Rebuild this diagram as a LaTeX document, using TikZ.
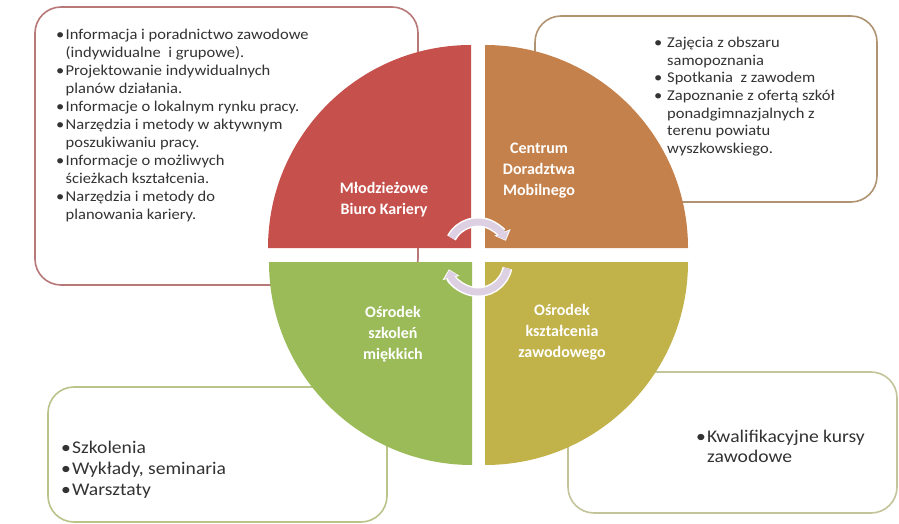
\documentclass[tikz,border=0pt]{standalone}
\usepackage{fontspec}
\setmainfont{Carlito}
\usetikzlibrary{arrows.meta}
\definecolor{qred}{HTML}{C6504B}
\definecolor{qorange}{HTML}{C4814B}
\definecolor{qgreen}{HTML}{9BBB59}
\definecolor{qolive}{HTML}{C2B24A}
\definecolor{bTL}{HTML}{B87878}
\definecolor{bTR}{HTML}{B09472}
\definecolor{bBL}{HTML}{B8C48A}
\definecolor{bBR}{HTML}{C4C49A}
\definecolor{txt}{HTML}{333333}
\definecolor{cyc}{HTML}{DCD0E2}
\newfontfamily\widefont[FakeStretch=1.1]{Carlito}
\newcommand\bitem[1]{\makebox[#1][l]{•}}
\newcommand\bcont[1]{\hspace*{#1}}
\begin{document}
\begin{tikzpicture}[x=1pt,y=-1pt,
  infobox/.style={line width=1.6pt, rounded corners=26pt, fill=white},
  bullets/.style={anchor=north west, align=left, text=txt, inner sep=0pt},
  qlabel/.style={text=white, font=\bfseries\fontsize{16}{21}\selectfont, align=center, inner sep=0pt},
  cycarc/.style={line width=7pt, cyc, line cap=butt},
  cycedge/.style={line width=10pt, white, line cap=butt}]
\useasboundingbox[fill=white] (0,0) rectangle (899,524);

% info boxes
\draw[infobox, draw=bTL] (35,7) rectangle (418,285);
\draw[infobox, draw=bTR] (535,16) rectangle (877,202);
\draw[infobox, draw=bBL] (48,387) rectangle (387,522);
\draw[infobox, draw=bBR] (568,372) rectangle (897,513);

% box texts
\node[bullets, font=\widefont\fontsize{15}{18}\selectfont] (tl) at (56,28.5) {%
\bitem{9.5pt}Informacja i poradnictwo zawodowe\\
\bcont{9.5pt}(indywidualne\ \ i grupowe).\\
\bitem{9.5pt}Projektowanie indywidualnych\\
\bcont{9.5pt}planów działania.\\
\bitem{9.5pt}Informacje o lokalnym rynku pracy.\\
\bitem{9.5pt}Narzędzia i metody w aktywnym\\
\bcont{9.5pt}poszukiwaniu pracy.\\
\bitem{9.5pt}Informacje o możliwych\\
\bcont{9.5pt}ścieżkach kształcenia.\\
\bitem{9.5pt}Narzędzia i metody do\\
\bcont{9.5pt}planowania kariery.};

\node[bullets, font=\widefont\fontsize{15}{17.6}\selectfont] (tr) at (654,37) {%
\bitem{13pt}Zajęcia z obszaru\\
\bcont{13pt}samopoznania\\
\bitem{13pt}Spotkania\ \ z zawodem\\
\bitem{13pt}Zapoznanie z ofertą szkół\\
\bcont{13pt}ponadgimnazjalnych z\\
\bcont{13pt}terenu powiatu\\
\bcont{13pt}wyszkowskiego.};

\node[bullets, font=\widefont\fontsize{17.8}{21}\selectfont] (bl) at (61,441) {%
\bitem{11pt}Szkolenia\\
\bitem{11pt}Wykłady, seminaria\\
\bitem{11pt}Warsztaty};

\node[bullets, font=\widefont\fontsize{17.8}{19.5}\selectfont] (br) at (696,430) {%
\bitem{11pt}Kwalifikacyjne kursy\\
\bcont{11pt}zawodowe};

% quadrants
\fill[qred] (471,248) -- (268,248) arc[start angle=180, end angle=90, radius=203pt] -- cycle;
\fill[qorange] (485,248) -- (485,45) arc[start angle=90, end angle=0, radius=203pt] -- cycle;
\fill[qgreen] (472,262) -- (269,262) arc[start angle=180, end angle=270, radius=203pt] -- cycle;
\fill[qolive] (485,262) -- (688,262) arc[start angle=0, end angle=-90, radius=203pt] -- cycle;

% labels
\node[qlabel] (q1) at (384,200) {Młodzieżowe\\Biuro Kariery};
\node[qlabel] (q2) at (539,171) {Centrum\\Doradztwa\\Mobilnego};
\node[qlabel] (q3) at (393,334) {Ośrodek\\szkoleń\\miękkich};
\node[qlabel] (q4) at (562,332) {Ośrodek\\kształcenia\\zawodowego};

% cycle arrows
\coordinate (ct) at (478,252);
\coordinate (cb) at (478,262);
\draw[cycedge, -{Triangle[length=9pt,width=17pt]}] (ct) ++(152:30pt) arc[start angle=152, end angle=22, radius=30pt];
\draw[cycarc, -{Triangle[length=7pt,width=13pt]}] (ct) ++(152:30pt) arc[start angle=152, end angle=24, radius=30pt];
\draw[cycedge, -{Triangle[length=9pt,width=17pt]}] (cb) ++(-12:30pt) arc[start angle=-12, end angle=-166, radius=30pt];
\draw[cycarc, -{Triangle[length=7pt,width=13pt]}] (cb) ++(-12:30pt) arc[start angle=-12, end angle=-164, radius=30pt];
\end{tikzpicture}
\end{document}
